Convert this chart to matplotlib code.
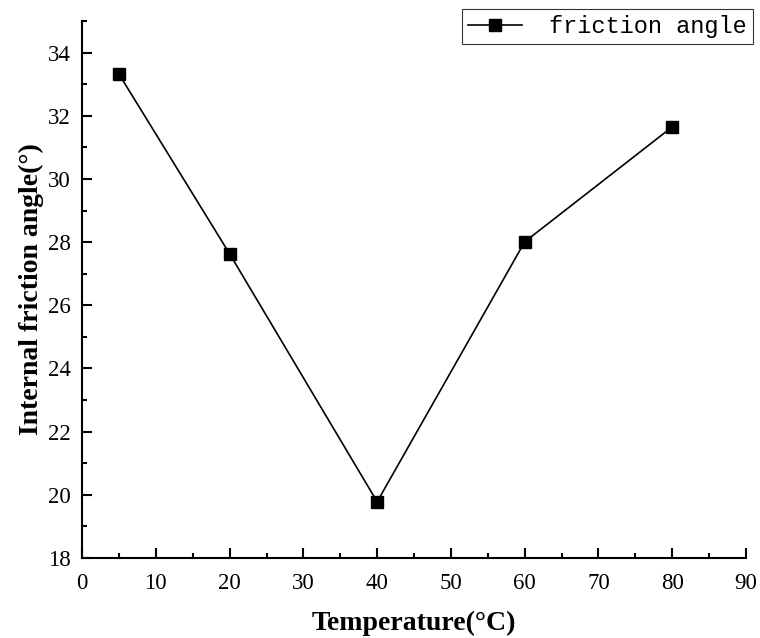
import matplotlib
matplotlib.use("Agg")
import matplotlib.pyplot as plt
from matplotlib.ticker import MultipleLocator

# temperature (°C) vs. internal friction angle (°)
temperature = [5, 20, 40, 60, 80]
friction_angle = [33.32, 27.63, 19.78, 28.01, 31.65]

x_ticks = [0, 10, 20, 30, 40, 50, 60, 70, 80, 90]
y_ticks = [18, 20, 22, 24, 26, 28, 30, 32, 34]

plt.rcParams["font.family"] = ["Liberation Serif", "DejaVu Serif"]

fig = plt.figure(figsize=(7.6, 6.38), dpi=100)
ax = fig.add_axes([0.108, 0.1254, 0.8736, 0.8416])

ax.plot(temperature, friction_angle, color="black", linewidth=1.2,
        marker="s", markersize=8, markerfacecolor="black",
        markeredgecolor="black", label="friction angle")

ax.set_xlim(0, 90)
ax.set_ylim(18, 35)
ax.set_xticks(x_ticks)
ax.set_yticks(y_ticks)
ax.xaxis.set_minor_locator(MultipleLocator(5))
ax.yaxis.set_minor_locator(MultipleLocator(1))

# only left/bottom axes, ticks pointing inward
for side in ("top", "right"):
    ax.spines[side].set_visible(False)
for side in ("left", "bottom"):
    ax.spines[side].set_linewidth(1.5)

ax.tick_params(which="major", direction="in", length=7, width=1.5,
               labelsize=16.5)
ax.tick_params(axis="x", which="major", pad=11)
ax.tick_params(axis="y", which="major", pad=8)
ax.tick_params(which="minor", direction="in", length=3.5, width=1.5)

ax.set_xlabel("Temperature(°C)", fontsize=20, fontweight="bold", labelpad=12)
ax.set_ylabel("Internal friction angle(°)", fontsize=20, fontweight="bold",
              labelpad=3)

leg = ax.legend(loc="upper right", bbox_to_anchor=(1.0105, 1.0223),
                prop={"family": ["Liberation Mono", "DejaVu Sans Mono"], "size": 17},
                frameon=True, fancybox=False, handlelength=2.3,
                handletextpad=1.15, borderpad=0.25, borderaxespad=0)
leg.get_frame().set_edgecolor("black")
leg.get_frame().set_linewidth(0.8)

fig.savefig("out.png", dpi=100)
